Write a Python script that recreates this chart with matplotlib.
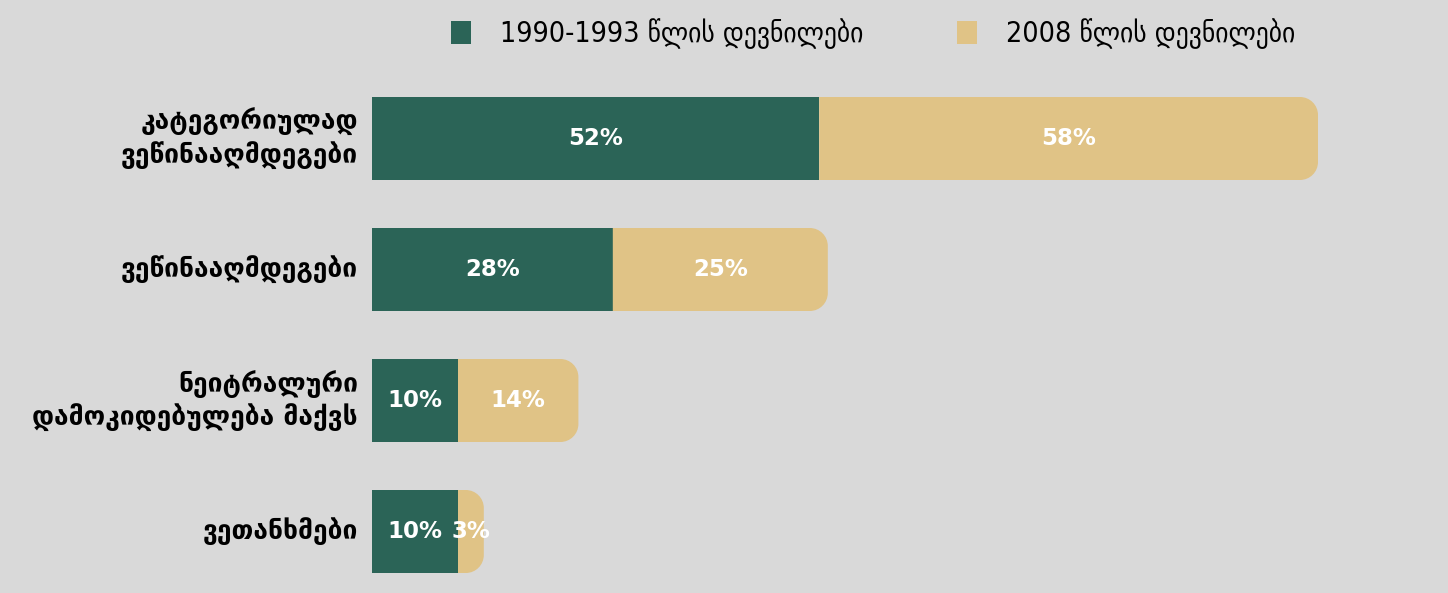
import matplotlib.pyplot as plt
from matplotlib.path import Path
from matplotlib.patches import PathPatch, Patch

categories = ['კატეგორიულად\nვეწინააღმდეგები', 'ვეწინააღმდეგები',
              'ნეიტრალური\nდამოკიდებულება მაქვს', 'ვეთანხმები']
idp_1990 = [52, 28, 10, 10]
idp_2008 = [58, 25, 14, 3]
series_names = ['1990-1993 წლის დევნილები', '2008 წლის დევნილები']

green = '#2b6457'
gold = '#e0c386'
bg = '#d9d9d9'

W, H = 1448, 593
fig = plt.figure(figsize=(W / 100, H / 100), dpi=100, facecolor=bg)

# axes placed in pixels: value 0 at x=372, 8.6 px per percent
px_x = 8.6
px_y = 131.0
left, right = 372, 1404
top, bottom = 73, 593
ax = fig.add_axes([left / W, 1 - bottom / H, (right - left) / W, (bottom - top) / H])
ax.set_facecolor(bg)
ax.set_xlim(0, (right - left) / px_x)
ax.set_ylim(-0.5 + (bottom - top) / px_y, -0.5)
ax.axis('off')

bar_h = 83 / px_y
rx = 18 / px_x
ry = 18 / px_y


def right_rounded(x0, w, yc, h):
    x1 = x0 + w
    y0, y1 = yc - h / 2, yc + h / 2
    r_x = min(rx, w)
    k = 0.5523
    verts = [(x0, y0), (x1 - r_x, y0),
             (x1 - r_x + k * r_x, y0), (x1, y0 + ry - k * ry), (x1, y0 + ry),
             (x1, y1 - ry),
             (x1, y1 - ry + k * ry), (x1 - r_x + k * r_x, y1), (x1 - r_x, y1),
             (x0, y1), (x0, y0)]
    codes = [Path.MOVETO, Path.LINETO,
             Path.CURVE4, Path.CURVE4, Path.CURVE4,
             Path.LINETO,
             Path.CURVE4, Path.CURVE4, Path.CURVE4,
             Path.LINETO, Path.CLOSEPOLY]
    return PathPatch(Path(verts, codes), facecolor=gold, edgecolor='none', clip_on=False)


for i, (a, b) in enumerate(zip(idp_1990, idp_2008)):
    ax.barh(i, a, height=bar_h, color=green, edgecolor='none')
    ax.add_patch(right_rounded(a, b, i, bar_h))
    ax.text(a / 2, i, f'{a}%', ha='center', va='center', color='white',
            fontsize=16.5, fontweight='bold')
    ax.text(a + b / 2, i, f'{b}%', ha='center', va='center', color='white',
            fontsize=16.5, fontweight='bold')
    ax.text(-14 / px_x, i, categories[i], ha='right', va='center', color='black',
            fontsize=19, fontweight='bold', linespacing=1.25)

handles = [Patch(facecolor=green), Patch(facecolor=gold)]
fig.legend(handles, series_names, loc='center', bbox_to_anchor=(0.6030, 0.943),
           ncol=2, frameon=False, handlelength=0.7, handleheight=0.85,
           handletextpad=1.0, columnspacing=3.3,
           prop={'size': 20.5, 'stretch': 'condensed'})

fig.savefig('out.png', dpi=100, facecolor=bg)
